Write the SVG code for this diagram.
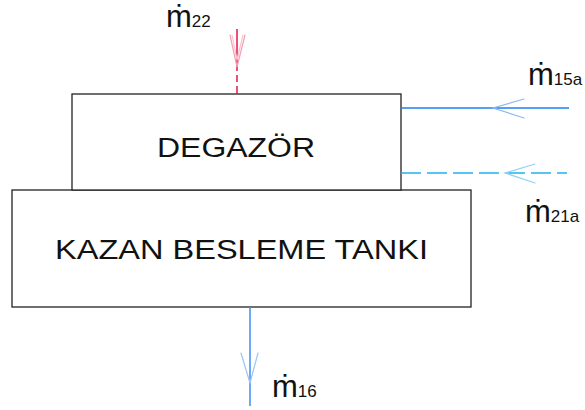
<svg xmlns="http://www.w3.org/2000/svg" width="585" height="410" viewBox="0 0 585 410">
<style>
.box{fill:#fff;stroke:#222;stroke-width:1.3}
.lbl{font-family:"Liberation Sans",Arial,sans-serif;font-size:27px;fill:#111}
.ml{font-family:"Liberation Sans","DejaVu Sans",Arial,sans-serif;font-size:31px;fill:#111}
.sub{font-family:"Liberation Sans",Arial,sans-serif;font-size:17px}
.wing{fill:none;stroke-width:1.2;stroke-linecap:round}
</style>
<rect width="585" height="410" fill="#fff"/>
<g id="kazan">
<rect class="box" x="12" y="190" width="459" height="117"/>
<text class="lbl" x="55" y="259" textLength="373" lengthAdjust="spacingAndGlyphs">KAZAN BESLEME TANKI</text>
</g>
<g id="degazor">
<rect class="box" x="72" y="94" width="329" height="96"/>
<text class="lbl" x="157" y="157" textLength="158" lengthAdjust="spacingAndGlyphs">DEGAZÖR</text>
</g>
<g id="connectors">
<line x1="237" y1="29" x2="237" y2="94" stroke="#e8174a" stroke-width="1.5" stroke-dasharray="42 4 7 4 40"/>
<polyline class="wing" points="230,35 237,67 245,35" stroke="#f5a0b4"/>
<polyline class="wing" points="232,35 237,60 243,35" stroke="#f8c4d0" stroke-width="0.8"/>
<line x1="401" y1="108" x2="569" y2="108" stroke="#1e80f0" stroke-width="1.5"/>
<polyline class="wing" points="524,99 493,108 524,118" stroke="#8ab8f6"/>
<line x1="401" y1="173" x2="567" y2="173" stroke="#1eb4f0" stroke-width="1.5" stroke-dasharray="20 6"/>
<polyline class="wing" points="535,164 505,173 535,183" stroke="#8fd3f6"/>
<line x1="250" y1="307" x2="250" y2="406" stroke="#3a8ef0" stroke-width="1.5"/>
<polyline class="wing" points="241,353 250,383 258,353" stroke="#9cc4f6"/>
</g>
<g id="labels">
<text class="ml" x="166" y="27">ṁ<tspan class="sub">22</tspan></text>
<text class="ml" x="528" y="85">ṁ<tspan class="sub">15a</tspan></text>
<text class="ml" x="525" y="222">ṁ<tspan class="sub">21a</tspan></text>
<text class="ml" x="272" y="397">ṁ<tspan class="sub">16</tspan></text>
</g>
</svg>
